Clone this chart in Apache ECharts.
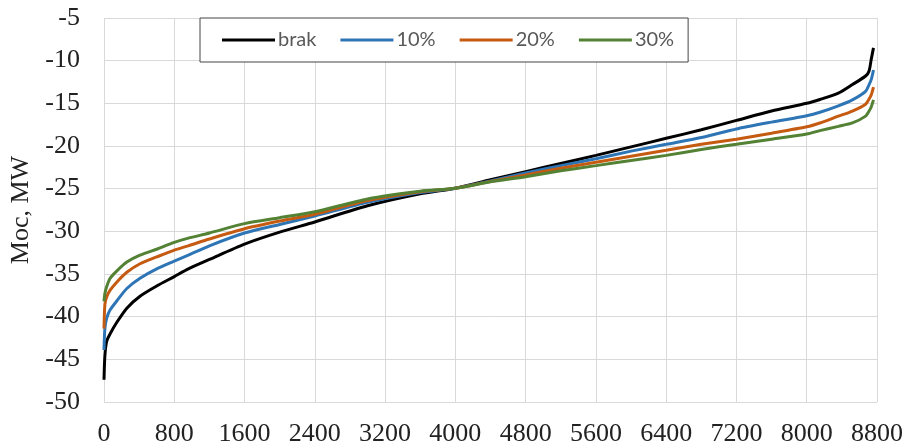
<!DOCTYPE html>
<html>
<head>
<meta charset="utf-8">
<script src="https://cdn.jsdelivr.net/npm/echarts@6/dist/echarts.min.js"></script>
<style>
    html, body { margin: 0; padding: 0; background: #fff; }
    #chart { width: 906px; height: 447px; }
</style>
</head>
<body>
<div id="chart"></div>
<script>
// hours of the year (sorted duration curve)
var hours = [0, 10, 30, 70, 150, 260, 410, 600, 800, 960, 1200, 1600, 2000, 2400, 3000, 3600, 4000, 4400,
    4800, 5200, 5600, 6000, 6400, 6800, 7200, 7600, 8000, 8150, 8360, 8520, 8670, 8710, 8735, 8760];

var brak = [-47.4, -44.6, -42.9, -42.0, -40.6, -39.0, -37.6, -36.4, -35.3, -34.4, -33.3, -31.5, -30.1, -28.9,
    -27.0, -25.6, -24.95, -23.95, -23.0, -22.05, -21.1, -20.1, -19.1, -18.1, -17.0, -15.9, -15.0, -14.55, -13.8,
    -12.8, -11.8, -11.2, -9.8, -8.5];
var p10 = [-43.9, -41.4, -40.2, -39.2, -38.1, -36.7, -35.5, -34.4, -33.5, -32.8, -31.7, -30.2, -29.2, -28.2,
    -26.6, -25.45, -24.95, -24.1, -23.15, -22.3, -21.5, -20.6, -19.8, -19.0, -18.0, -17.2, -16.45, -16.05, -15.3,
    -14.6, -13.6, -12.8, -12.2, -11.1];
var p20 = [-41.4, -38.6, -37.7, -36.9, -35.9, -34.8, -33.8, -33.0, -32.2, -31.7, -30.9, -29.7, -28.8, -28.0,
    -26.4, -25.35, -24.95, -24.15, -23.4, -22.6, -21.9, -21.2, -20.5, -19.8, -19.2, -18.5, -17.75, -17.3, -16.5,
    -15.9, -15.1, -14.5, -14.0, -13.1];
var p30 = [-38.2, -37.3, -36.5, -35.5, -34.6, -33.6, -32.8, -32.1, -31.3, -30.8, -30.2, -29.1, -28.4, -27.7,
    -26.2, -25.3, -24.95, -24.2, -23.6, -22.9, -22.3, -21.7, -21.1, -20.4, -19.8, -19.2, -18.6, -18.2, -17.7,
    -17.3, -16.5, -15.9, -15.4, -14.6];

var seriesNames = ['brak', '10%', '20%', '30%'];
var seriesColors = ['#000000', '#2e75b6', '#c55a11', '#548235'];

function pairs(ys) {
    return hours.map(function (h, i) { return [h, ys[i]]; });
}

var chart = echarts.init(document.getElementById('chart'));
var axisFont = { fontFamily: 'Liberation Serif', fontSize: 26, color: '#222' };

chart.setOption({
    animation: false,
    grid: { left: 104, right: 28, top: 18, bottom: 43 },
    legend: {
        data: seriesNames,
        left: 200,
        top: 18,
        padding: [12, 14, 12, 22],
        itemGap: 24,
        itemWidth: 53,
        itemHeight: 10,
        borderColor: '#444',
        borderWidth: 1,
        backgroundColor: '#fff',
        icon: 'path://M0,4L53,4L53,7L0,7Z',
        textStyle: { fontFamily: 'Lato', fontSize: 20, color: '#595959', padding: [0, 0, 0, -2] }
    },
    xAxis: {
        type: 'value',
        min: 0,
        max: 8800,
        interval: 800,
        axisLine: { show: false },
        axisTick: { show: false },
        axisLabel: Object.assign({ margin: 19, formatter: function (v) { return String(v); } }, axisFont),
        splitLine: { lineStyle: { color: '#d9d9d9', width: 1 } }
    },
    yAxis: {
        type: 'value',
        min: -50,
        max: -5,
        interval: 5,
        name: 'Moc, MW',
        nameLocation: 'middle',
        nameGap: 69,
        nameTextStyle: axisFont,
        axisLine: { show: false },
        axisTick: { show: false },
        axisLabel: Object.assign({ margin: 24 }, axisFont),
        splitLine: { lineStyle: { color: '#d9d9d9', width: 1 } }
    },
    series: [brak, p10, p20, p30].map(function (ys, i) {
        return {
            name: seriesNames[i],
            type: 'line',
            data: pairs(ys),
            showSymbol: false,
            smooth: 0.25,
            color: seriesColors[i],
            lineStyle: { width: 3, color: seriesColors[i] }
        };
    })
});
</script>
</body>
</html>
